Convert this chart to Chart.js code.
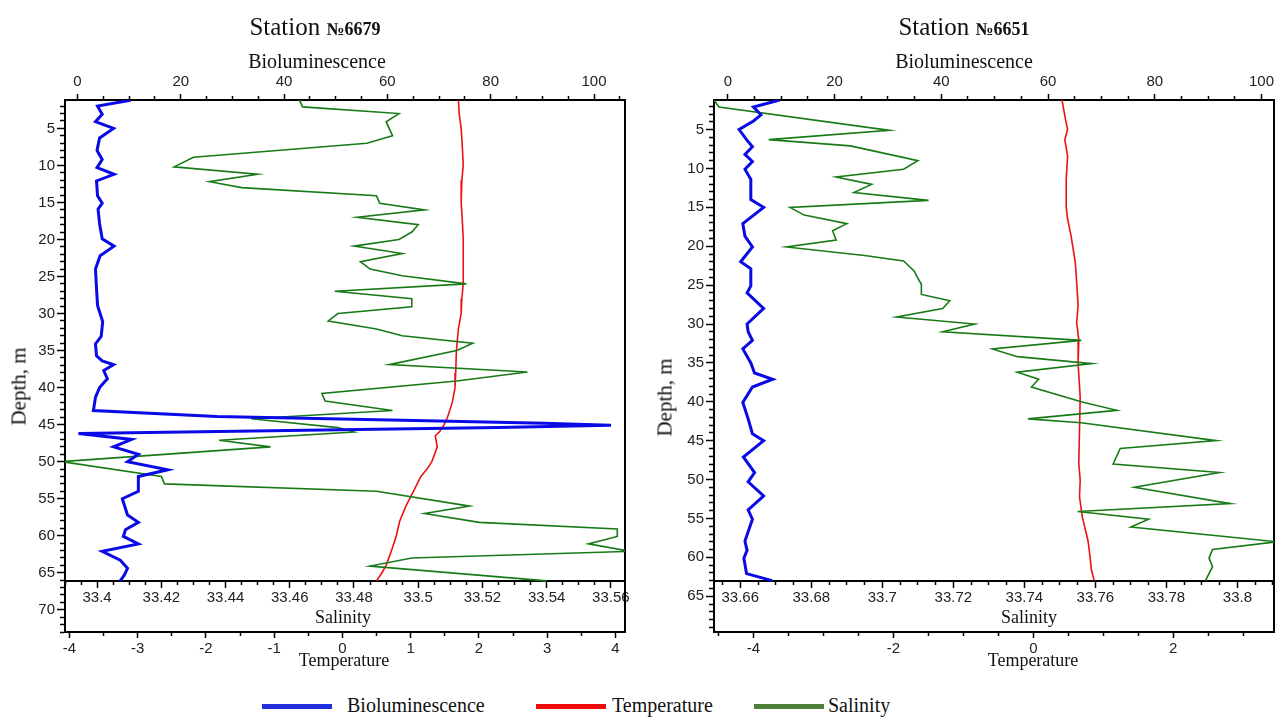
<!DOCTYPE html>
<html>
<head>
<meta charset="utf-8">
<script src="https://cdn.jsdelivr.net/npm/chart.js@4.4.1/dist/chart.umd.min.js"></script>
<style>
  body { margin: 0; background: #fff; }
  #page { position: relative; width: 1276px; height: 718px; overflow: hidden; background: #fff;
          font-family: "Liberation Serif", "Times New Roman", serif; color: #111; }
  canvas { position: absolute; top: 0; }
  #c79 { left: 0; }
  #c51 { left: 640px; }
  .lbl { position: absolute; width: 400px; text-align: center; white-space: nowrap; line-height: 1; }
  .station { font-size: 25px; top: 14px; }
  .station b { font-size: 18px; }
  .bio { font-size: 20px; top: 51px; }
  .sal { font-size: 18px; top: 608px; }
  .tmp { font-size: 18px; top: 651px; }
  .dep { font-size: 21px; width: 200px; transform: rotate(-90deg); }
  .key { position: absolute; height: 5px; width: 70px; top: 704px; }
  .keytxt { position: absolute; font-size: 20px; line-height: 1; top: 695px; white-space: nowrap; }
</style>
</head>
<body>
<div id="page">
  <canvas id="c79" width="640" height="680"></canvas>
  <canvas id="c51" width="636" height="680"></canvas>

  <div class="lbl station" style="left:115px">Station <b>№6679</b></div>
  <div class="lbl station" style="left:764px">Station <b>№6651</b></div>
  <div class="lbl bio" style="left:117px">Bioluminescence</div>
  <div class="lbl bio" style="left:764px">Bioluminescence</div>
  <div class="lbl sal" style="left:143px">Salinity</div>
  <div class="lbl sal" style="left:829px">Salinity</div>
  <div class="lbl tmp" style="left:144px">Temperature</div>
  <div class="lbl tmp" style="left:833px">Temperature</div>
  <div class="lbl dep" style="left:-81px; top:376px">Depth, m</div>
  <div class="lbl dep" style="left:565px; top:387px">Depth, m</div>

  <div class="key" style="left:262px; background:#2230dc"></div>
  <div class="keytxt" style="left:347px">Bioluminescence</div>
  <div class="key" style="left:536px; background:#ee0a0a"></div>
  <div class="keytxt" style="left:612px">Temperature</div>
  <div class="key" style="left:754px; background:#4d7f3a"></div>
  <div class="keytxt" style="left:828px">Salinity</div>
</div>

<script>
// ---- Station 6679 ----
const bioDepth79 = [1.2, 2.0, 3.1, 4.1, 5.0, 6.3, 8.0, 9.2, 10.3, 11.2, 12.1, 14.1, 15.1, 15.9, 17.9, 19.9, 20.9, 22.2, 24.0, 26.6,
  28.9, 31.1, 33.1, 34.1, 35.7, 36.4, 36.9, 37.7, 38.8, 40.0, 41.3, 43.1, 43.9, 44.4, 44.8, 45.1, 45.4, 46.2, 47.0, 48.0,
  49.0, 50.0, 51.1, 52.0, 54.0, 55.0, 57.2, 58.2, 59.2, 60.1, 61.1, 62.1, 63.3, 64.4, 65.3, 66.1];
const bio79 = [10.3, 3.9, 4.8, 3.5, 7.0, 4.3, 3.8, 4.8, 3.8, 7.1, 3.7, 3.9, 4.8, 4.0, 4.3, 4.8, 7.1, 4.4, 3.5, 3.7,
  3.9, 4.9, 4.6, 3.5, 3.7, 4.8, 7.0, 5.1, 5.8, 4.3, 3.5, 3.1, 27, 63, 90.4, 103.3, 81.5, 0.2, 10.5, 7.0,
  11.8, 9.7, 17.5, 11.8, 11.8, 8.7, 9.7, 11.8, 9.3, 8.9, 11.8, 4.8, 8.3, 9.7, 9.1, 8.3];

const tempDepth79 = [1.2, 3, 5, 8, 10, 12, 15, 18, 20, 23, 26, 28, 30, 32, 35, 38, 40, 42, 44, 45,
  46, 46.5, 48, 50, 51, 52, 54, 56, 58, 60, 62, 64, 65, 66.1];
const temp79 = [1.70, 1.71, 1.74, 1.76, 1.77, 1.75, 1.74, 1.76, 1.77, 1.77, 1.77, 1.75, 1.74, 1.70, 1.67, 1.66, 1.65, 1.61, 1.54, 1.49,
  1.42, 1.36, 1.39, 1.31, 1.24, 1.15, 1.04, 0.93, 0.84, 0.79, 0.72, 0.64, 0.58, 0.50];

const salDepth79 = [1.2, 2.1, 3.0, 4.1, 6.0, 7.0, 8.9, 10.2, 11.2, 12.2, 13.0, 14.1, 15.1, 16.0, 17.0, 18.0, 19.0, 20.0, 20.9, 21.9,
  23.0, 24.0, 24.9, 26.0, 27.0, 28.0, 29.1, 30.0, 31.0, 32.1, 33.0, 34.0, 35.0, 36.9, 37.9, 39.1, 40.8, 41.8, 43.1, 44.2,
  45.4, 46.0, 47.1, 48.0, 50.0, 52.0, 53.0, 54.0, 56.0, 57.0, 58.2, 59.1, 60.1, 61.1, 62.1, 63.0, 64.1, 66.1];
const sal79 = [33.463, 33.464, 33.494, 33.490, 33.492, 33.484, 33.430, 33.424, 33.450, 33.435, 33.445, 33.487, 33.488, 33.502, 33.481, 33.500, 33.498, 33.494, 33.480, 33.495,
  33.482, 33.485, 33.495, 33.515, 33.474, 33.498, 33.498, 33.475, 33.472, 33.487, 33.495, 33.517, 33.512, 33.491, 33.534, 33.512, 33.470, 33.471, 33.492, 33.448,
  33.475, 33.480, 33.438, 33.454, 33.389, 33.420, 33.421, 33.487, 33.516, 33.502, 33.519, 33.562, 33.562, 33.553, 33.566, 33.498, 33.485, 33.540];

// ---- Station 6651 ----
const bioDepth51 = [1.2, 2.1, 3.1, 3.9, 5.0, 6.3, 7.2, 8.2, 9.1, 10.1, 11.4, 14.0, 15.0, 17.1, 18.7, 20.1, 22.0, 22.9, 25.1, 26.0,
  28.0, 30.0, 31.0, 32.1, 33.2, 35.0, 36.3, 37.1, 38.1, 40.1, 42.2, 44.1, 45.0, 47.1, 49.1, 50.3, 52.1, 53.9, 55.1, 57.9,
  59.1, 60.1, 62.1, 63.0];
const bio51 = [9.7, 4.8, 6.2, 4.8, 2.1, 3.5, 4.6, 3.2, 4.6, 3.2, 4.3, 4.3, 6.7, 2.8, 3.2, 4.6, 2.4, 4.3, 4.3, 3.6,
  6.7, 3.6, 3.8, 4.6, 2.8, 4.3, 5.0, 8.4, 4.6, 2.8, 3.8, 4.6, 6.7, 2.9, 5.0, 3.8, 6.7, 3.8, 4.6, 3.2,
  3.6, 3.0, 3.5, 8.3];

const tempDepth51 = [1.2, 3.7, 5.0, 6.3, 8.4, 11.4, 15.0, 16.5, 18.7, 22.1, 24.7, 27.6, 29.8, 32.1, 35.1, 39.4, 43.7, 47.9, 50.1, 52.2,
  54.8, 57.8, 59.1, 61.6, 63.0];
const temp51 = [0.41, 0.46, 0.49, 0.45, 0.49, 0.47, 0.47, 0.49, 0.54, 0.60, 0.62, 0.64, 0.62, 0.65, 0.64, 0.67, 0.66, 0.65, 0.67, 0.66,
  0.70, 0.78, 0.80, 0.83, 0.87];

const salDepth51 = [1.2, 2.1, 5.1, 6.3, 7.1, 9.0, 10.1, 11.1, 12.05, 13.1, 14.1, 15.0, 16.0, 17.1, 18.0, 19.2, 20.1, 21.2, 21.9, 23.2,
  24.1, 24.9, 26.2, 27.0, 28.0, 29.1, 30.0, 31.0, 32.1, 33.2, 34.2, 35.1, 36.2, 37.1, 38.1, 40.0, 41.1, 42.2, 42.7, 45.0,
  46.0, 48.0, 49.1, 51.0, 53.1, 54.1, 55.1, 56.1, 58.0, 59.0, 60.1, 61.2, 63.0];
const sal51 = [33.6526, 33.654, 33.702, 33.668, 33.691, 33.710, 33.706, 33.687, 33.697, 33.692, 33.713, 33.674, 33.678, 33.690, 33.686, 33.687, 33.673, 33.695, 33.706, 33.709,
  33.710, 33.711, 33.711, 33.719, 33.717, 33.704, 33.726, 33.717, 33.756, 33.731, 33.738, 33.759, 33.738, 33.744, 33.742, 33.756, 33.766, 33.741, 33.756, 33.794,
  33.767, 33.765, 33.795, 33.771, 33.798, 33.755, 33.775, 33.770, 33.811, 33.793, 33.792, 33.793, 33.791];

const tickFont = { family: "'Liberation Sans', Arial, sans-serif", size: 15 };
const tickColor = "#222";

const zip = (xs, ys) => xs.map((x, i) => ({ x, y: ys[i] }));
const isMajor = (v, step) => Math.abs(v / step - Math.round(v / step)) < 1e-6;

// fixed axis thickness so the plot box lands where the original has it
const fixSize = size => scale => {
  if (scale.isHorizontal()) scale.height = size; else scale.width = size;
  scale.paddingLeft = scale.paddingRight = scale.paddingTop = scale.paddingBottom = 0;
};

// every minor step gets a tick, only majors get a label and full length
function axis(axisName, position, min, max, minor, major, len, outerFirst, pad, size) {
  return {
    type: "linear",
    axis: axisName,
    position,
    min, max,
    reverse: axisName === "y",
    ticks: {
      stepSize: minor,
      includeBounds: false,
      autoSkip: false,
      maxRotation: 0,
      padding: pad,
      font: tickFont,
      color: tickColor,
      callback: v => isMajor(v, major) ? String(Number(v.toFixed(3))) : ""
    },
    grid: {
      drawOnChartArea: false,
      drawTicks: true,
      tickLength: len,
      tickColor: "#000",
      tickWidth: 1.5,
      tickBorderDash: ctx => {
        if (!ctx.tick || isMajor(ctx.tick.value, major)) return [];
        const m = Math.round(len / 2);
        return outerFirst ? [0, len - 1 - m, m, 100] : [m, 100];
      }
    },
    border: { display: true, color: "#000", width: 2 },
    afterFit: fixSize(size)
  };
}

function line(label, xs, depths, axisId, color, width) {
  return {
    label,
    data: zip(xs, depths),
    xAxisID: axisId,
    yAxisID: "depth",
    showLine: true,
    borderColor: color,
    backgroundColor: color,
    borderWidth: width,
    pointRadius: 0,
    tension: 0,
    fill: false
  };
}

function panel(id, p) {
  new Chart(document.getElementById(id), {
    type: "scatter",
    data: {
      datasets: [
        line("Bioluminescence", p.bio, p.bioDepth, "bio", "#0a0ae6", 3),
        line("Salinity", p.sal, p.salDepth, "sal", "#177a17", 1.6),
        line("Temperature", p.temp, p.tempDepth, "temp", "#ee1111", 1.6)
      ]
    },
    options: {
      responsive: false,
      animation: false,
      devicePixelRatio: 1,
      layout: { autoPadding: false, padding: p.padding },
      plugins: { legend: { display: false }, tooltip: { enabled: false }, title: { display: false } },
      scales: {
        depth: axis("y", "left", p.depthMin, p.depthMax, 1, 5, 8, true, 2, p.leftWidth),
        bio: axis("x", "top", p.bioMin, p.bioMax, 5, 20, 6, true, 3, 40),
        sal: axis("x", { depth: p.salAt }, p.salMin, p.salMax, 0.005, 0.02, 6, false, 2, 40),
        temp: axis("x", "bottom", p.tempMin, p.tempMax, 0.5, p.tempMajor, 6, false, 2, 30),
        frame: {
          type: "linear", axis: "y", position: "right", min: 0, max: 1,
          ticks: { display: false },
          grid: { drawOnChartArea: false, drawTicks: false },
          border: { display: true, color: "#000", width: 2 },
          afterFit: fixSize(0)
        }
      }
    }
  });
}

panel("c79", {
  bio: bio79, bioDepth: bioDepth79, sal: sal79, salDepth: salDepth79, temp: temp79, tempDepth: tempDepth79,
  depthMin: 1.17, depthMax: 73.0, salAt: 66.08,
  bioMin: -2.4, bioMax: 106,
  salMin: 33.390, salMax: 33.5644,
  tempMin: -4.064, tempMax: 4.14, tempMajor: 1,
  leftWidth: 65,
  padding: { left: 0, right: 15, top: 60, bottom: 18 }
});

panel("c51", {
  bio: bio51, bioDepth: bioDepth51, sal: sal51, salDepth: salDepth51, temp: temp51, tempDepth: tempDepth51,
  depthMin: 1.2, depthMax: 69.6, salAt: 63.0,
  bioMin: -2.6, bioMax: 102.35,
  salMin: 33.6526, salMax: 33.8103,
  tempMin: -4.564, tempMax: 3.44, tempMajor: 2,
  leftWidth: 74,
  padding: { left: 0, right: 2, top: 60, bottom: 18 }
});
</script>
</body>
</html>
